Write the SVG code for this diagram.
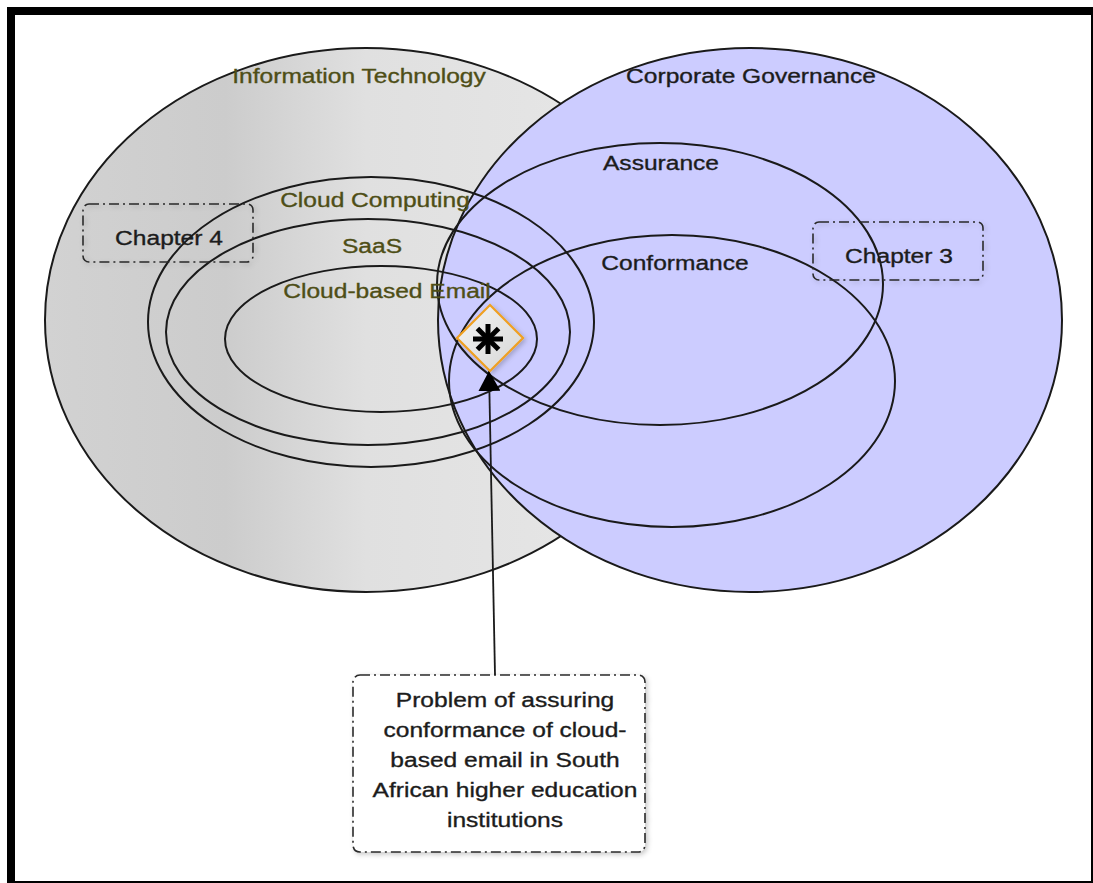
<svg xmlns="http://www.w3.org/2000/svg" width="1093" height="883" viewBox="0 0 1093 883">
  <style>
    .lbl { font-family: "Liberation Sans", Arial, sans-serif; font-size: 21px; text-anchor: middle; stroke-width: 0.35px; }
    .it { fill: #4e4e16; stroke: #4e4e16; }
    .cg { fill: #1c1c1c; stroke: #1c1c1c; }
    .ring { fill: none; stroke: #1a1a1a; stroke-width: 2; }
    .big { stroke: #1a1a1a; stroke-width: 2; }
    .note { stroke: #2a2a2a; stroke-width: 1.6; stroke-dasharray: 10 4 2 4; }
  </style>
  <defs>
    <linearGradient id="itFill" x1="45" y1="0" x2="687" y2="0" gradientUnits="userSpaceOnUse">
      <stop offset="0" stop-color="#d2d2d2"/>
      <stop offset="0.28" stop-color="#cccccc"/>
      <stop offset="0.5" stop-color="#e0e0e0"/>
      <stop offset="1" stop-color="#e8e8e8"/>
    </linearGradient>
    <linearGradient id="gemFill" x1="0" y1="0" x2="1" y2="1">
      <stop offset="0" stop-color="#f4f4f4"/>
      <stop offset="1" stop-color="#d6d6d6"/>
    </linearGradient>
    <filter id="shadow" x="-20%" y="-20%" width="140%" height="140%">
      <feDropShadow dx="2" dy="2" stdDeviation="2.5" flood-color="#000" flood-opacity="0.22"/>
    </filter>
    <!-- filled triangular head; tip sits on the line end -->
    <marker id="arrowHead" viewBox="0 0 20 22" refX="20" refY="11" markerWidth="20" markerHeight="22" markerUnits="userSpaceOnUse" orient="auto">
      <path d="M0,0 L20,11 L0,22 Z" fill="#000"/>
    </marker>
  </defs>

  <!-- frame -->
  <rect x="0" y="0" width="1093" height="883" fill="#ffffff"/>
  <rect x="7" y="7" width="1086" height="876" fill="#000000"/>
  <rect x="15" y="15" width="1076" height="866" fill="#ffffff"/>

  <!-- domains -->
  <g id="information-technology">
    <ellipse cx="366" cy="320" rx="321" ry="272" fill="url(#itFill)" class="big"/>
  </g>
  <g id="corporate-governance">
    <ellipse cx="750" cy="320" rx="312" ry="272" fill="#ccccff" class="big"/>
  </g>

  <!-- nested areas -->
  <g id="cloud-computing"><ellipse class="ring" cx="371" cy="322" rx="223" ry="145"/></g>
  <g id="saas"><ellipse class="ring" cx="368" cy="332" rx="202" ry="113"/></g>
  <g id="cloud-based-email"><ellipse class="ring" cx="381" cy="339" rx="156" ry="73"/></g>
  <g id="assurance"><ellipse class="ring" cx="660" cy="284" rx="223" ry="141"/></g>
  <g id="conformance"><ellipse class="ring" cx="672" cy="381" rx="223" ry="146"/></g>

  <!-- labels -->
  <g id="labels">
    <text class="lbl it" transform="translate(359,83) scale(1.17,1)">Information Technology</text>
    <text class="lbl cg" transform="translate(751,83) scale(1.17,1)">Corporate Governance</text>
    <text class="lbl it" transform="translate(375,207) scale(1.17,1)">Cloud Computing</text>
    <text class="lbl it" transform="translate(372,253) scale(1.17,1)">SaaS</text>
    <text class="lbl it" transform="translate(387,298) scale(1.17,1)">Cloud-based Email</text>
    <text class="lbl cg" transform="translate(661,170) scale(1.17,1)">Assurance</text>
    <text class="lbl cg" transform="translate(675,270) scale(1.17,1)">Conformance</text>
  </g>

  <!-- chapter notes -->
  <g id="chapter-4">
    <rect class="note" x="83" y="204" width="170" height="58" rx="6" fill="none" filter="url(#shadow)"/>
    <text class="lbl cg" transform="translate(169,245) scale(1.17,1)">Chapter 4</text>
  </g>
  <g id="chapter-3">
    <rect class="note" x="813" y="222" width="170" height="58" rx="6" fill="none" filter="url(#shadow)"/>
    <text class="lbl cg" transform="translate(899,263) scale(1.17,1)">Chapter 3</text>
  </g>

  <!-- connectors -->
  <g id="connectors">
    <line x1="495" y1="675" x2="489" y2="371" stroke="#1a1a1a" stroke-width="1.8" marker-end="url(#arrowHead)"/>
  </g>

  <!-- problem marker -->
  <g id="problem-marker" filter="url(#shadow)">
    <path d="M490,305 L523,338 L490,371 L457,338 Z" fill="url(#gemFill)" stroke="#f0a020" stroke-width="2.2"/>
    <g stroke="#000" stroke-width="5" transform="translate(488,339)">
      <line x1="-15" y1="0" x2="15" y2="0"/>
      <line x1="0" y1="-15" x2="0" y2="15"/>
      <line x1="-10.6" y1="-10.6" x2="10.6" y2="10.6"/>
      <line x1="-10.6" y1="10.6" x2="10.6" y2="-10.6"/>
    </g>
  </g>

  <!-- problem statement -->
  <g id="problem-statement">
    <rect class="note" x="353" y="675" width="292" height="177" rx="7" fill="#ffffff" filter="url(#shadow)"/>
    <text class="lbl cg" transform="translate(505,707) scale(1.17,1)">Problem of assuring</text>
    <text class="lbl cg" transform="translate(505,737) scale(1.17,1)">conformance of cloud-</text>
    <text class="lbl cg" transform="translate(505,767) scale(1.17,1)">based email in South</text>
    <text class="lbl cg" transform="translate(505,797) scale(1.17,1)">African higher education</text>
    <text class="lbl cg" transform="translate(505,827) scale(1.17,1)">institutions</text>
  </g>
</svg>
